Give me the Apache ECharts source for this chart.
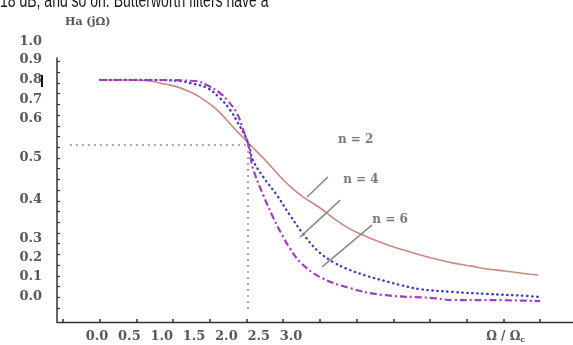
<!DOCTYPE html>
<html><head><meta charset="utf-8">
<script src="https://cdn.jsdelivr.net/npm/echarts@6/dist/echarts.min.js"></script>
<style>html,body{margin:0;padding:0;background:#fff}#c{width:573px;height:345px}</style>
</head><body><div id="c"></div>
<script>
// ---- data (x in the figure's Ω/Ωc label units, y in the figure's vertical units: 0 at "0.0", 1 at "1.0") ----
const seriesN2 = [[0.05,0.851],[0.51,0.851],[0.82,0.847],[1.05,0.835],[1.24,0.824],[1.44,0.804],[1.59,0.784],[1.86,0.733],[2.10,0.667],[2.34,0.604],[2.46,0.573],[2.60,0.537],[2.78,0.486],[2.98,0.435],[3.19,0.392],[3.45,0.349],[3.65,0.310],[3.91,0.267],[4.18,0.235],[4.45,0.208],[4.69,0.188],[5.00,0.165],[5.30,0.145],[5.51,0.133],[5.77,0.122],[6.03,0.110],[6.31,0.102],[6.54,0.094],[6.82,0.086]];
const seriesN4 = [[0.05,0.851],[0.82,0.851],[1.28,0.847],[1.44,0.839],[1.70,0.820],[1.90,0.780],[2.06,0.733],[2.18,0.682],[2.34,0.604],[2.41,0.537],[2.57,0.471],[2.78,0.400],[2.98,0.322],[3.19,0.247],[3.40,0.184],[3.65,0.137],[3.91,0.106],[4.18,0.082],[4.45,0.063],[4.69,0.047],[4.99,0.031],[5.50,0.020],[6.03,0.012],[6.65,0.004],[6.85,0.0]];
const seriesN6 = [[0.05,0.851],[0.82,0.851],[1.52,0.847],[1.70,0.831],[1.90,0.800],[2.01,0.773],[2.16,0.722],[2.26,0.655],[2.34,0.596],[2.41,0.506],[2.57,0.400],[2.72,0.314],[2.88,0.235],[2.98,0.192],[3.14,0.137],[3.45,0.078],[3.91,0.035],[4.42,0.008],[5.20,-0.004],[5.50,-0.012],[6.03,-0.012],[6.85,-0.016]];
const crossPoint = [2.335, 0.596];
const guideStartX = -0.42;
const guideBottomY = -0.051;

const yTickLabels = ['1.0','0.9','0.8','0.7','0.6','0.5','0.4','0.3','0.2','0.1','0.0'];
const yTickLabelValues = [1.0,0.929,0.851,0.773,0.698,0.545,0.380,0.227,0.153,0.078,0.0];
const xTickLabels = ['0.0','0.5','1.0','1.5','2.0','2.5','3.0'];
const xTickLabelValues = [0,0.5,1.0,1.5,2.0,2.5,3.0];
const xUnitLabel = 'Ω / Ω';
const xUnitLabelSub = 'c';
const xUnitLabelValue = 6.32;

const curveNames = ['n = 2','n = 4','n = 6'];
const curveLabelPos = [[4.00,0.616],[4.08,0.459],[4.53,0.302]];
const leaderLines = [[[3.57,0.471],[3.25,0.392]],[[3.76,0.380],[3.14,0.235]],[[4.25,0.282],[3.48,0.118]]];

const topText = '18 dB, and so on. Butterworth filters have a';
const yTitle = 'Ha (jΩ)';

// axis extents & minor ticks
const xMin = -0.619, xMax = 7.36;
const yMin = -0.098, yMax = 1.0;
const yLineMax = 0.937;
const xTicks = []; for (let k = 0; k < 14; k++) xTicks.push(+(-0.526 + 0.5675 * k).toFixed(4));
const yTicks = []; for (let k = 0; k < 24; k++) yTicks.push(+(0.923 - 0.042 * k).toFixed(4));

const labelFont = {fontFamily:'DejaVu Serif', fontWeight:'bold', fontSize:13, color:'#585858'};

const chart = echarts.init(document.getElementById('c'), null, {renderer:'canvas'});
function nearestIdx(arr, v){let b=0;for(let i=1;i<arr.length;i++) if(Math.abs(arr[i]-v)<Math.abs(arr[b]-v)) b=i;return b;}

chart.setOption({
  animation:false,
  backgroundColor:'#fff',
  grid:[
    {left:57, right:0, top:42, bottom:23},
    {left:57, right:0, top:58, bottom:23}
  ],
  xAxis:[
    {type:'value', gridIndex:0, min:xMin, max:xMax, splitLine:{show:false},
     axisLine:{show:true, onZero:false, lineStyle:{color:'#333', width:1.3}},
     axisTick:{show:true, inside:true, length:3, customValues:xTicks, lineStyle:{color:'#333', width:1.5}},
     axisLabel:{show:true, margin:8, customValues:xTickLabelValues.concat([xUnitLabelValue]), hideOverlap:false,
       formatter:function(v){ if (Math.abs(v-xUnitLabelValue)<1e-6) return '{u|'+xUnitLabel+'}{s|'+xUnitLabelSub+'}'; return xTickLabels[nearestIdx(xTickLabelValues,v)]; },
       ...labelFont,
       rich:{u:{...labelFont, fontSize:12}, s:{...labelFont, fontSize:8, padding:[6,0,0,0]}}
     }},
    {type:'value', gridIndex:1, min:xMin, max:xMax, show:false}
  ],
  yAxis:[
    {type:'value', gridIndex:0, min:yMin, max:yMax, splitLine:{show:false},
     axisLine:{show:false}, axisTick:{show:false},
     axisLabel:{show:true, margin:15, customValues:yTickLabelValues, hideOverlap:false,
       formatter:function(v){ return yTickLabels[nearestIdx(yTickLabelValues,v)]; }, ...labelFont}},
    {type:'value', gridIndex:1, min:yMin, max:yLineMax, splitLine:{show:false},
     axisLine:{show:true, onZero:false, lineStyle:{color:'#333', width:1.5}},
     axisTick:{show:true, inside:true, length:3, customValues:yTicks, lineStyle:{color:'#333', width:1.2}},
     axisLabel:{show:false}}
  ],
  series:[
    {type:'line', name:'n = 2', data:seriesN2, smooth:0.4, showSymbol:false, xAxisIndex:0, yAxisIndex:0,
     lineStyle:{color:'#c98a80', width:1.6}},
    {type:'line', name:'n = 4', data:seriesN4, smooth:0.4, showSymbol:false,
     lineStyle:{color:'#3a3ac4', width:2.3, type:[0.5,4.5], cap:'round'}},
    {type:'line', name:'n = 6', data:seriesN6, smooth:0.4, showSymbol:false,
     lineStyle:{color:'#a53cc0', width:2.2, type:[7,3,2,3]}},
    {type:'scatter', data:curveLabelPos.map((p,i)=>({value:p, name:curveNames[i]})), symbolSize:0,
     label:{show:true, position:'inside', formatter:'{b}', ...labelFont, fontSize:12},
     markLine:{silent:true, symbol:'none', label:{show:false},
       data: leaderLines.map(l=>[{coord:l[0], lineStyle:{color:'#8a8a8a', width:1.5, type:'solid'}},{coord:l[1]}])
        .concat([
          [{coord:[guideStartX, crossPoint[1]], lineStyle:{color:'#888', width:1.5, type:[2,4]}},{coord:crossPoint}],
          [{coord:crossPoint, lineStyle:{color:'#888', width:1.5, type:[2,4]}},{coord:[crossPoint[0], guideBottomY]}]
        ])
     }}
  ],
  graphic:[
    {type:'text', x:0, y:0, scaleX:0.70, style:{text:topText, x:0, y:11, verticalAlign:'bottom', font:'20px "Liberation Sans"', fill:'#1a1a1a'}},
    {type:'text', style:{text:yTitle, x:65, y:22, verticalAlign:'middle', font:'bold 11px "DejaVu Serif"', fill:'#555'}},
    {type:'rect', shape:{x:41, y:75, width:2, height:12}, style:{fill:'#111'}}
  ]
});
</script></body></html>
